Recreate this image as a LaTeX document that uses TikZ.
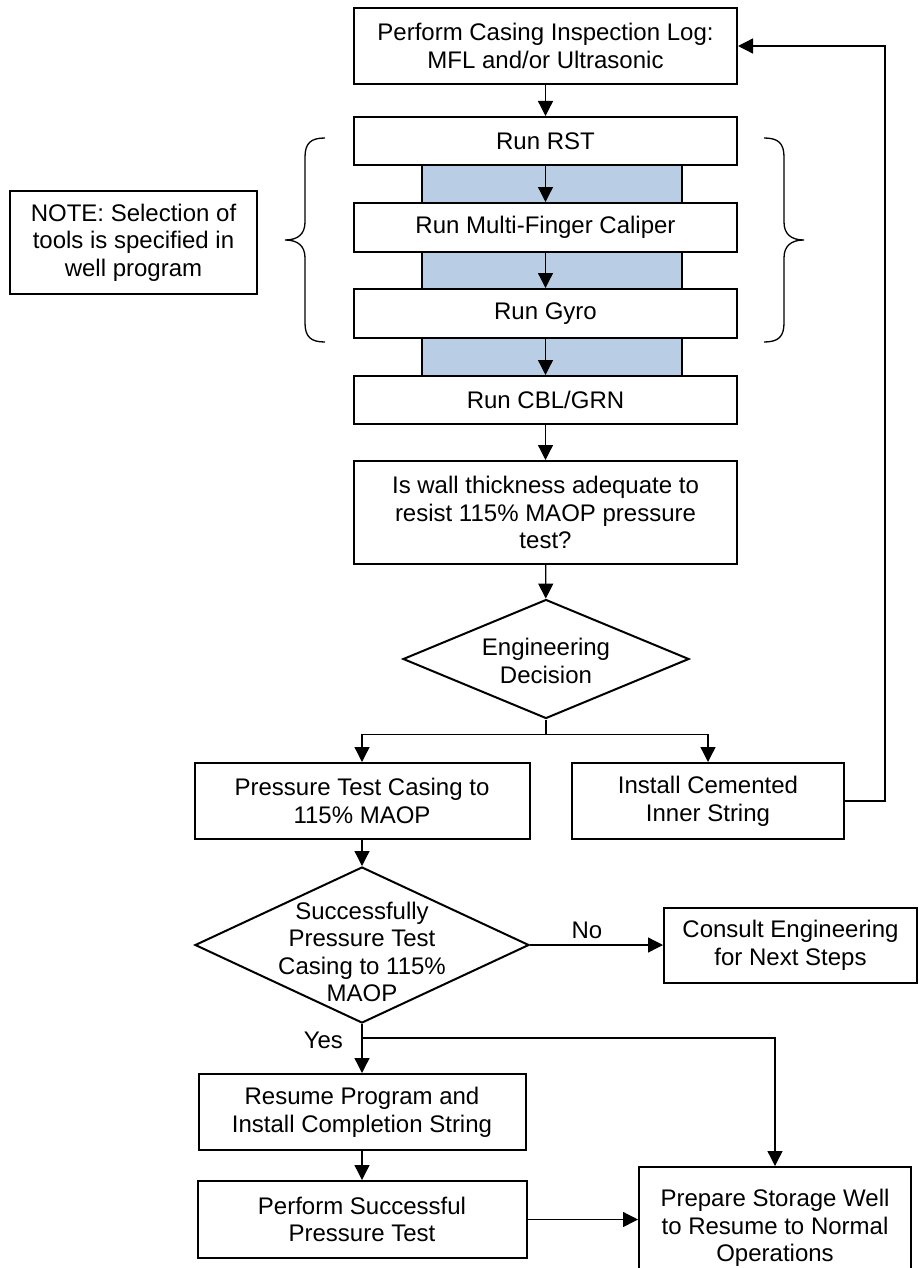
\documentclass[tikz,border=0pt]{standalone}
\usepackage{fontspec}
\setmainfont{Liberation Sans}
\usetikzlibrary{arrows.meta,shapes.geometric}
\definecolor{bandblue}{RGB}{185,205,229}

\begin{document}
\begin{tikzpicture}[x=0.5pt,y=-0.5pt,
  txt/.style={font=\fontsize{12pt}{13.8pt}\selectfont},
  box/.style={txt, draw, line width=1pt, fill=white, align=center, inner sep=0pt},
  decision/.style={diamond, draw, line width=1pt, fill=white, inner sep=0pt},
  link/.style={line width=0.65pt},
  arrow/.style={link, -{Triangle[length=7.5pt,width=7.5pt]}},
  brace/.style={line width=0.65pt}]

\useasboundingbox (0,0) rectangle (919,1268);
\clip (0,0) rectangle (919,1268);

% shaded band behind the logging tool runs
\draw[fill=bandblue, line width=0.7pt] (422,141) rectangle (682,400);

% main column
\node[box, minimum width=191.5pt, minimum height=38pt] (top) at (545.5,46)
  {Perform Casing Inspection Log:\\MFL and/or Ultrasonic};
\node[box, minimum width=191.5pt, minimum height=24pt] (rst) at (545.5,141) {Run RST};
\node[box, minimum width=191.5pt, minimum height=24.5pt] (mfc) at (545.5,227.5) {Run Multi-Finger Caliper};
\node[box, minimum width=191.5pt, minimum height=24.5pt] (gyro) at (545.5,313.5) {Run Gyro};
\node[box, minimum width=191.5pt, minimum height=24pt] (cbl) at (545.5,400) {Run CBL/GRN};
\node[box, minimum width=191.5pt, minimum height=51.5pt] (wall) at (545.5,512.5)
  {Is wall thickness adequate to\\resist 115\% MAOP pressure\\test?};

\node[decision, minimum width=143pt, minimum height=59.5pt] (dec1) at (546,659) {};
\node[txt, align=center] (dec1txt) at (546,661) {Engineering\\Decision};

\node[box, minimum width=167.5pt, minimum height=38pt] (press) at (362,801)
  {Pressure Test Casing to\\115\% MAOP};
\node[box, minimum width=136pt, minimum height=38pt] (inner) at (708,801)
  {Install Cemented\\Inner String};

\node[decision, minimum width=167pt, minimum height=78pt] (dec2) at (362,945) {};
\node[txt, align=center] (dec2txt) at (362,952)
  {Successfully\\Pressure Test\\Casing to 115\%\\MAOP};

\node[box, minimum width=126.5pt, minimum height=37.5pt] (consult) at (790.5,945)
  {Consult Engineering\\for Next Steps};

\node[box, minimum width=163.5pt, minimum height=38pt] (resume) at (362,1112)
  {Resume Program and\\Install Completion String};
\node[box, minimum width=164.5pt, minimum height=38.5pt] (perform) at (362,1219.5)
  {Perform Successful\\Pressure Test};
\node[box, minimum width=136pt, minimum height=61pt] (prepare) at (775,1228)
  {Prepare Storage Well\\to Resume to Normal\\Operations};

% side note and braces
\node[box, minimum width=123.5pt, minimum height=51.5pt] (note) at (133.5,242.5)
  {NOTE: Selection of\\tools is specified in\\well program};

\draw[brace] (325,138) .. controls (311,138) and (305,143) .. (305,157)
  -- (305,222) .. controls (305,234) and (298,240) .. (285,240)
  .. controls (298,240) and (305,246) .. (305,258)
  -- (305,323) .. controls (305,337) and (311,342) .. (325,342);
\draw[brace] (764,138) .. controls (778,138) and (784,143) .. (784,157)
  -- (784,222) .. controls (784,234) and (791,240) .. (804,240)
  .. controls (791,240) and (784,246) .. (784,258)
  -- (784,323) .. controls (784,337) and (778,342) .. (764,342);

% connectors down the main column
\draw[arrow] (top) -- (rst);
\draw[arrow] (rst) -- (mfc);
\draw[arrow] (mfc) -- (gyro);
\draw[arrow] (gyro) -- (cbl);
\draw[arrow] (cbl) -- (wall);
\draw[arrow] (wall) -- (dec1);

% engineering decision branches
\draw[link] (dec1.south) -- ++(0,15) coordinate (split);
\draw[arrow] (split) -| (press.north);
\draw[arrow] (split) -| (inner.north);

% loop back to the inspection log
\coordinate (loop) at (885,801);
\draw[arrow] (inner.east) -- (loop) |- (top.east);

\draw[arrow] (press) -- (dec2);

% pressure test outcome
\draw[arrow] (dec2.east) -- (consult.west);
\node[txt] (nolbl) at (587,930) {No};

\draw[arrow] (dec2.south) -- (resume.north);
\coordinate (yesfork) at (362,1038);
\node[txt, anchor=east] (yeslbl) at (350,1040) {Yes};
\draw[arrow] (yesfork) -| (prepare.north);

\draw[arrow] (resume) -- (perform);
\draw[arrow] (perform.east) -- (perform.east -| prepare.west);

\end{tikzpicture}
\end{document}
